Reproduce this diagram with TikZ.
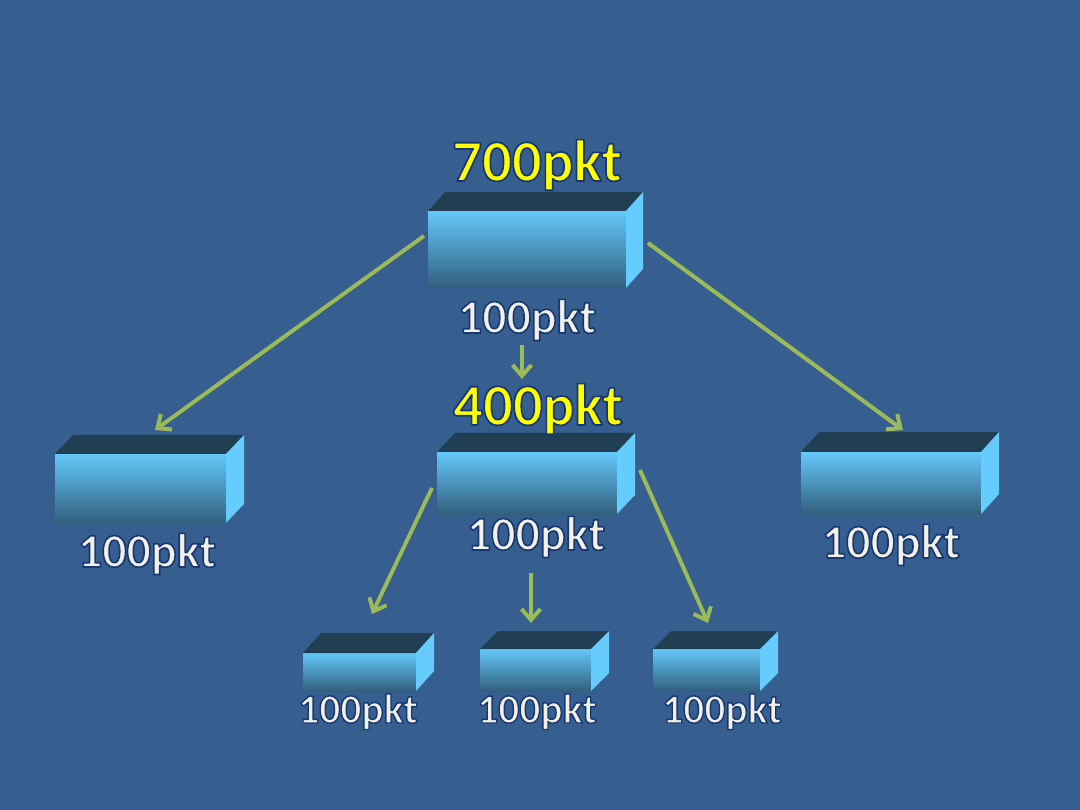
\documentclass[tikz,border=0pt]{standalone}
\usepackage{fontspec}
\setmainfont{Carlito}
\usetikzlibrary{arrows.meta,calc}
\definecolor{bg}{RGB}{54,95,143}
\definecolor{frontTop}{RGB}{100,200,250}
\definecolor{frontBot}{RGB}{50,95,125}
\definecolor{sideC}{RGB}{102,204,255}
\definecolor{topC}{RGB}{33,63,82}
\definecolor{arrC}{RGB}{155,187,89}
\definecolor{txtW}{RGB}{243,240,230}
\definecolor{txtY}{RGB}{255,255,0}
\tikzset{
  front/.style={inner sep=0pt, outer sep=0pt, top color=frontTop, bottom color=frontBot, draw=none},
  topface/.style={fill=topC},
  sideface/.style={fill=sideC},
  arr/.style={draw=arrC, line width=4pt, -{Straight Barb[length=11pt,width=19pt]},
     preaction={draw=black, draw opacity=0.35, -{Straight Barb[length=11pt,width=19pt]}, transform canvas={shift={(1.2pt,-1.5pt)}}}},
  wlbl/.style={anchor=base, inner sep=0pt, text=txtW},
  ylbl/.style={anchor=base, inner sep=0pt, text=txtY, font=\bfseries\fontsize{59}{60}\selectfont},
  big/.style={font=\bfseries\fontsize{48}{50}\selectfont},
  small/.style={font=\bfseries\fontsize{41.5}{43}\selectfont}
}
\newcommand{\pkbox}[7]{%
  \node[front, minimum width={(#4-#2)*1pt}, minimum height={(#5-#3)*1pt}] (#1) at ({(#2+#4)/2},{(#3+#5)/2}) {};
  \fill[topface] (#1.north west) -- ++(#6,-#7) -- ($(#1.north east)+(#6,-#7)$) -- (#1.north east) -- cycle;
  \fill[sideface] (#1.north east) -- ++(#6,-#7) -- ($(#1.south east)+(#6,-#7)$) -- (#1.south east) -- cycle;
}
\newcommand{\outl}[2][1.6]{\special{pdf:literal direct q #1 w 1 j 0.086 0.216 0.451 RG 2 Tr}#2\special{pdf:literal direct 0 Tr Q}}
\begin{document}
\begin{tikzpicture}[x=1pt,y=-1pt]
\fill[bg] (0,0) rectangle (1080,810);
\useasboundingbox (0,0) rectangle (1080,810);

% boxes
\pkbox{top}{428}{211}{626}{288}{17}{19}
\pkbox{left}{55}{454}{226}{523}{18}{19}
\pkbox{mid}{437}{452}{617}{514}{18}{19}
\pkbox{right}{801}{452}{981}{514}{18}{20}
\pkbox{s1}{303}{653}{416}{691}{18}{20}
\pkbox{s2}{480}{649}{591}{691}{18}{18}
\pkbox{s3}{653}{649}{760}{691}{18}{18}

% labels
\node[ylbl] (l700) at (537,181) {\outl[1.7]{700pkt}};
\node[wlbl,big] (ltop) at (527,333) {\outl{100pkt}};
\node[ylbl] (l400) at (538,425) {\outl[1.7]{400pkt}};
\node[wlbl,big] (lmid) at (536,550) {\outl{100pkt}};
\node[wlbl,big] (lleft) at (147,567) {\outl{100pkt}};
\node[wlbl,big] (lright) at (891,558) {\outl{100pkt}};
\node[wlbl,small] (ls1) at (358,723) {\outl[1.4]{100pkt}};
\node[wlbl,small] (ls2) at (537,723) {\outl[1.4]{100pkt}};
\node[wlbl,small] (ls3) at (722,723) {\outl[1.4]{100pkt}};

% connector ends
\coordinate (a1s) at (424,236); \coordinate (a1e) at (155,430);
\coordinate (a2s) at (648,243); \coordinate (a2e) at (903,430);
\coordinate (a3s) at (522,345); \coordinate (a3e) at (522,379);
\coordinate (a4s) at (432,488); \coordinate (a4e) at (372,614);
\coordinate (a5s) at (531,573); \coordinate (a5e) at (531,623);
\coordinate (a6s) at (640,470); \coordinate (a6e) at (708,623);

\draw[arr] (a1s) -- (a1e);
\draw[arr] (a2s) -- (a2e);
\draw[arr] (a3s) -- (a3e);
\draw[arr] (a4s) -- (a4e);
\draw[arr] (a5s) -- (a5e);
\draw[arr] (a6s) -- (a6e);
\end{tikzpicture}
\end{document}
